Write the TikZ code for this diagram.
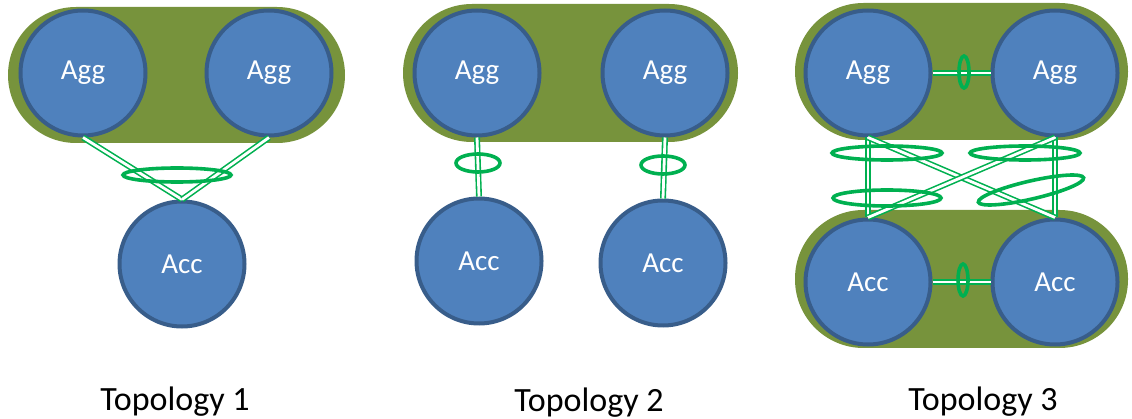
\documentclass[tikz,border=0pt]{standalone}
\usepackage{fontspec}
\setmainfont{Carlito}
\definecolor{olive}{HTML}{77933C}
\definecolor{nodeblue}{HTML}{4F81BD}
\definecolor{nodeedge}{HTML}{385D8A}
\definecolor{linkgreen}{HTML}{00B050}
\tikzset{
  dev/.style={circle, minimum size=125pt, inner sep=0pt, fill=nodeblue, draw=nodeedge, line width=4pt, text=white, font=\fontsize{29}{29}\selectfont},
  group/.style={fill=olive},
  link/.style={draw=linkgreen, line width=1.6pt, double=white, double distance=2.8pt},
  ring/.style={draw=linkgreen, line width=3.6pt},
  title/.style={anchor=base, font=\fontsize{34}{34}\selectfont}
}
\begin{document}
\begin{tikzpicture}[x=1pt,y=-1pt]
\useasboundingbox (0,0) rectangle (1132,419);
% ---------- Topology 1
\fill[group, rounded corners=68pt] (8,7) rectangle (345,143);
\node[dev] (t1agg1) at (83,73) {Agg};
\node[dev] (t1agg2) at (269,73) {Agg};
\node[dev] (t1acc) at (182,264) {Acc};
\draw[link] (t1agg1.south) -- (t1acc.north);
\draw[link] (t1agg2.south) -- (t1acc.north);
\draw[ring] (177,175) ellipse [x radius=54, y radius=7];
\node[title] (t1) at (175,410) {Topology 1};
% ---------- Topology 2
\fill[group, rounded corners=69pt] (403,4) rectangle (738,142);
\node[dev] (t2agg1) at (477,73) {Agg};
\node[dev] (t2agg2) at (665,73) {Agg};
\node[dev] (t2acc1) at (479,261) {Acc};
\node[dev] (t2acc2) at (663,263) {Acc};
\draw[link] (t2agg1.south) -- (t2acc1.north);
\draw[link] (t2agg2.south) -- (t2acc2.north);
\draw[ring] (478,163) ellipse [x radius=22, y radius=9];
\draw[ring] (663,165) ellipse [x radius=22, y radius=9];
\node[title] (t2) at (589,411) {Topology 2};
% ---------- Topology 3
\fill[group, rounded corners=68.5pt] (795,3) rectangle (1128,140);
\fill[group, rounded corners=68.5pt] (795,210) rectangle (1128,348);
\node[dev] (t3agg1) at (868,73) {Agg};
\node[dev] (t3agg2) at (1055,73) {Agg};
\node[dev] (t3acc1) at (868,282) {Acc};
\node[dev] (t3acc2) at (1055,282) {Acc};
\draw[link] (t3agg1.east) -- (t3agg2.west);
\draw[link] (t3acc1.east) -- (t3acc2.west);
\draw[link] (t3agg1.south) -- (t3acc1.north);
\draw[link] (t3agg2.south) -- (t3acc2.north);
\draw[link] (t3agg1.south) -- (t3acc2.north);
\draw[link] (t3agg2.south) -- (t3acc1.north);
\draw[ring] (964,72) ellipse [x radius=5, y radius=16];
\draw[ring] (963,280) ellipse [x radius=5, y radius=16];
\draw[ring] (887,153) ellipse [x radius=55, y radius=7];
\draw[ring] (887,198) ellipse [x radius=54, y radius=8];
\draw[ring] (1025,153) ellipse [x radius=55, y radius=7];
\draw[ring, rotate around={13:(1031,190)}] (1031,190) ellipse [x radius=54, y radius=9];
\node[title] (t3) at (983,410) {Topology 3};
\end{tikzpicture}
\end{document}
